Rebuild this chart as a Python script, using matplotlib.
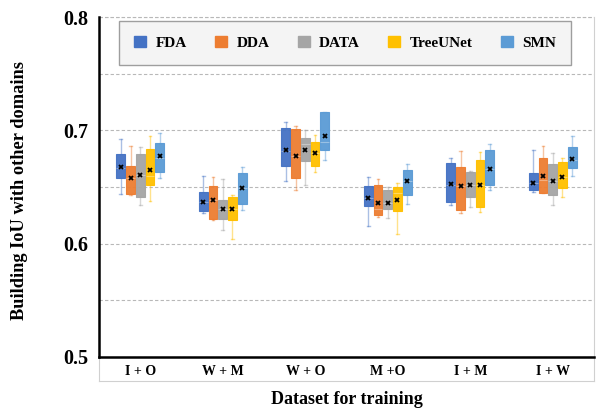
import numpy as np
from matplotlib import pyplot as plt
from matplotlib.patches import Patch
from matplotlib.lines import Line2D

categories = ['I + O', 'W + M', 'W + O', 'M +O', 'I + M', 'I + W']
methods = ['FDA', 'DDA', 'DATA', 'TreeUNet', 'SMN']
colors = ['#4472C4', '#ED7D31', '#A5A5A5', '#FFC000', '#5B9BD5']

# per method: one value per category (I+O, W+M, W+O, M+O, I+M, I+W)
whislo = {
    'FDA':      [0.644, 0.627, 0.655, 0.616, 0.634, 0.646],
    'DDA':      [0.643, 0.621, 0.647, 0.624, 0.627, 0.645],
    'DATA':     [0.634, 0.612, 0.652, 0.623, 0.632, 0.634],
    'TreeUNet': [0.638, 0.604, 0.663, 0.609, 0.628, 0.641],
    'SMN':      [0.658, 0.630, 0.674, 0.635, 0.647, 0.660],
}
q1 = {
    'FDA':      [0.658, 0.629, 0.669, 0.633, 0.637, 0.647],
    'DDA':      [0.644, 0.622, 0.658, 0.625, 0.630, 0.645],
    'DATA':     [0.641, 0.622, 0.673, 0.631, 0.641, 0.643],
    'TreeUNet': [0.652, 0.621, 0.669, 0.629, 0.632, 0.649],
    'SMN':      [0.663, 0.635, 0.683, 0.643, 0.652, 0.667],
}
med = {
    'FDA':      [0.667, 0.637, 0.682, 0.640, 0.652, 0.654],
    'DDA':      [0.658, 0.639, 0.677, 0.631, 0.651, 0.656],
    'DATA':     [0.661, 0.631, 0.688, 0.636, 0.652, 0.655],
    'TreeUNet': [0.660, 0.631, 0.680, 0.645, 0.652, 0.659],
    'SMN':      [0.676, 0.649, 0.690, 0.655, 0.666, 0.674],
}
q3 = {
    'FDA':      [0.679, 0.646, 0.702, 0.651, 0.671, 0.662],
    'DDA':      [0.669, 0.651, 0.701, 0.652, 0.668, 0.676],
    'DATA':     [0.679, 0.639, 0.693, 0.647, 0.663, 0.670],
    'TreeUNet': [0.684, 0.641, 0.690, 0.650, 0.674, 0.672],
    'SMN':      [0.689, 0.662, 0.716, 0.665, 0.683, 0.685],
}
whishi = {
    'FDA':      [0.692, 0.660, 0.707, 0.659, 0.676, 0.683],
    'DDA':      [0.686, 0.659, 0.704, 0.657, 0.682, 0.686],
    'DATA':     [0.685, 0.657, 0.700, 0.650, 0.664, 0.680],
    'TreeUNet': [0.695, 0.643, 0.696, 0.654, 0.681, 0.676],
    'SMN':      [0.698, 0.668, 0.716, 0.670, 0.688, 0.695],
}
means = {
    'FDA':      [0.668, 0.637, 0.683, 0.640, 0.653, 0.654],
    'DDA':      [0.658, 0.639, 0.677, 0.636, 0.651, 0.660],
    'DATA':     [0.661, 0.631, 0.683, 0.636, 0.652, 0.655],
    'TreeUNet': [0.665, 0.631, 0.680, 0.639, 0.652, 0.659],
    'SMN':      [0.677, 0.649, 0.695, 0.655, 0.666, 0.675],
}

plt.rcParams['font.family'] = ['Liberation Serif', 'DejaVu Serif']
plt.rcParams['font.weight'] = 'bold'

fig = plt.figure(figsize=(6, 4.08), dpi=100)
ax = fig.add_axes([0.165, 0.125, 0.825, 0.833])

step = 0.118
width = 0.105
for j, m in enumerate(methods):
    stats = []
    for i in range(len(categories)):
        stats.append(dict(whislo=whislo[m][i], q1=q1[m][i], med=med[m][i],
                          q3=q3[m][i], whishi=whishi[m][i], mean=means[m][i],
                          fliers=[]))
    pos = np.arange(1, len(categories) + 1) + (j - 2) * step
    c = colors[j]
    ax.bxp(stats, positions=pos, widths=width, patch_artist=True,
           showmeans=True, manage_ticks=False,
           boxprops=dict(facecolor=c, edgecolor=c, linewidth=0.8, alpha=0.95),
           medianprops=dict(color='white', alpha=0.35, linewidth=0.8),
           whiskerprops=dict(color=c, alpha=0.45, linewidth=1.0),
           capprops=dict(color=c, alpha=0.45, linewidth=1.0),
           capwidths=width * 0.3,
           meanprops=dict(marker='x', markeredgecolor='black', markersize=3.5,
                          markeredgewidth=1.3))

ax.set_xlim(0.5, len(categories) + 0.5)
ax.set_ylim(0.5, 0.8)
ax.set_yticks([0.5, 0.6, 0.7, 0.8])
ax.set_yticks([0.55, 0.65, 0.75], minor=True)
ax.set_yticklabels(['0.5', '0.6', '0.7', '0.8'], fontsize=14.5, fontweight='bold')
ax.tick_params(axis='y', which='both', length=0, pad=8)
ax.grid(axis='y', which='both', color='#b8b8b8', linestyle=(0, (3, 2)), linewidth=0.8)
ax.axhline(0.8, color='#b8b8b8', linestyle=(0, (3, 2)), linewidth=0.8, clip_on=False)
ax.set_axisbelow(True)

ax.set_xticks(range(1, len(categories) + 1))
ax.set_xticklabels(categories, fontsize=10, fontweight='bold')
ax.tick_params(axis='x', length=0, pad=6)

for s in ['top', 'right']:
    ax.spines[s].set_visible(False)
ax.spines['left'].set_linewidth(1.8)
ax.spines['bottom'].set_linewidth(1.8)
# light frame on the right and around the category labels
ax.add_line(Line2D([1, 1], [-0.07, 1], transform=ax.transAxes, color='#d0d0d0',
                   linewidth=0.8, clip_on=False))
ax.add_line(Line2D([0, 0], [-0.07, 0], transform=ax.transAxes, color='#d0d0d0',
                   linewidth=0.8, clip_on=False))
ax.add_line(Line2D([0, 1], [-0.07, -0.07], transform=ax.transAxes, color='#d0d0d0',
                   linewidth=0.8, clip_on=False))

ax.set_ylabel('Building IoU with other domains', fontsize=13.2, fontweight='bold')
ax.yaxis.set_label_coords(-0.143, 0.49)
ax.set_xlabel('Dataset for training', fontsize=13, fontweight='bold', labelpad=9)

handles = [Patch(facecolor=c, edgecolor=c) for c in colors]
leg = ax.legend(handles, methods, loc='upper center', bbox_to_anchor=(0.497, 0.99),
                ncol=5, frameon=True, fancybox=False, shadow=False,
                facecolor='#f2f2f2', edgecolor='#888888',
                prop=dict(weight='bold', size=11), handlelength=0.8,
                handleheight=0.8, columnspacing=1.85, handletextpad=0.6,
                borderpad=1.0, borderaxespad=0.0)
leg.get_frame().set_linewidth(1.0)

plt.savefig('out.png')
